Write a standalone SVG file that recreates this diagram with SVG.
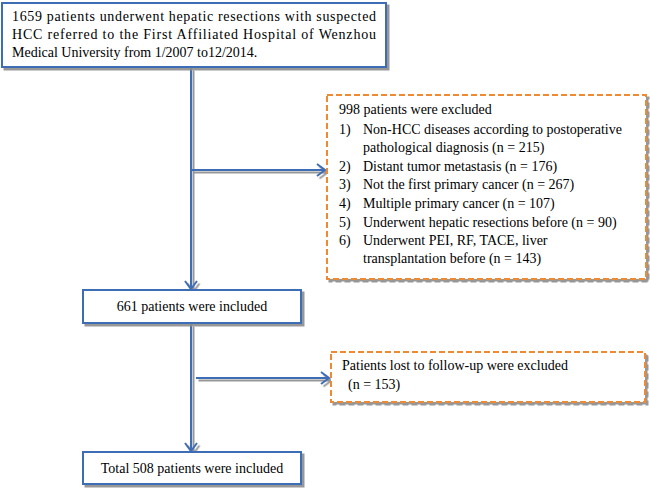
<svg xmlns="http://www.w3.org/2000/svg" width="650" height="489" viewBox="0 0 650 489">
<defs>
<style>
.box{fill:#fff;stroke:#3D6DB5;stroke-width:2}
.dbox{fill:#fff;stroke:#F08A30;stroke-width:2;stroke-dasharray:6 3}
.t{font-family:"Liberation Serif","Times New Roman",serif;font-size:14px;fill:#000}
.c{text-anchor:middle}
.ln{stroke:#3D6DB5;stroke-width:2;fill:none}
</style>
<filter id="sh" x="-5%" y="-5%" width="115%" height="130%">
<feDropShadow dx="2.5" dy="2.5" stdDeviation="0.6" flood-color="#8c8c8c" flood-opacity="0.9"/>
</filter>
<marker id="ah" markerUnits="userSpaceOnUse" markerWidth="14" markerHeight="16" refX="10" refY="7" orient="auto" viewBox="0 0 14 14">
<path d="M2,1 L10,7 L2,13" fill="none" stroke="#3D6DB5" stroke-width="2"/>
</marker>
</defs>
<g id="connectors" filter="url(#sh)">
<line class="ln" x1="191" y1="68" x2="191" y2="289" marker-end="url(#ah)"/>
<line class="ln" x1="191" y1="170" x2="325" y2="170" marker-end="url(#ah)"/>
<line class="ln" x1="191" y1="324" x2="191" y2="451" marker-end="url(#ah)"/>
<line class="ln" x1="196" y1="378" x2="329" y2="378" marker-end="url(#ah)"/>
</g>
<g id="n1">
<rect class="box" x="2" y="3" width="384" height="64" filter="url(#sh)"/>
<text class="t" x="12" y="21" textLength="364" lengthAdjust="spacing">1659 patients underwent hepatic resections with suspected</text>
<text class="t" x="12" y="39" textLength="364" lengthAdjust="spacing">HCC referred to the First Affiliated Hospital of Wenzhou</text>
<text class="t" x="12" y="57">Medical University from 1/2007 to12/2014.</text>
</g>
<g id="n2">
<rect class="dbox" x="327" y="95" width="319" height="184" filter="url(#sh)"/>
<text class="t" x="339" y="114">998 patients were excluded</text>
<text class="t" x="339" y="134">1)</text><text class="t" x="363" y="134">Non-HCC diseases according to postoperative</text>
<text class="t" x="363" y="152">pathological diagnosis (n = 215)</text>
<text class="t" x="339" y="171">2)</text><text class="t" x="363" y="171">Distant tumor metastasis (n = 176)</text>
<text class="t" x="339" y="189">3)</text><text class="t" x="363" y="189">Not the first primary cancer (n = 267)</text>
<text class="t" x="339" y="208">4)</text><text class="t" x="363" y="208">Multiple primary cancer (n = 107)</text>
<text class="t" x="339" y="227">5)</text><text class="t" x="363" y="227">Underwent hepatic resections before (n = 90)</text>
<text class="t" x="339" y="245">6)</text><text class="t" x="363" y="245">Underwent PEI, RF, TACE, liver</text>
<text class="t" x="363" y="263">transplantation before (n = 143)</text>
</g>
<g id="n3">
<rect class="box" x="83" y="290" width="218" height="33" filter="url(#sh)"/>
<text class="t c" x="192" y="311">661 patients were included</text>
</g>
<g id="n4">
<rect class="dbox" x="331" y="352" width="314" height="50" filter="url(#sh)"/>
<text class="t" x="342" y="370">Patients lost to follow-up were excluded</text>
<text class="t" x="348" y="389">(n = 153)</text>
</g>
<g id="n5">
<rect class="box" x="83" y="452" width="218" height="32" filter="url(#sh)"/>
<text class="t c" x="192" y="473">Total 508 patients were included</text>
</g>
</svg>
